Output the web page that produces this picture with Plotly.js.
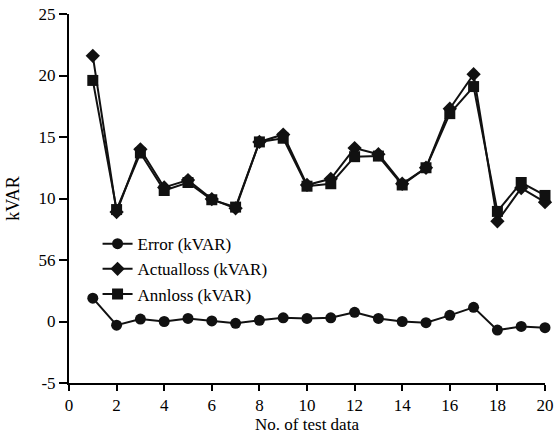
<!DOCTYPE html>
<html><head><meta charset="utf-8">
<script src="https://cdn.plot.ly/plotly-3.0.1.min.js"></script>
<style>html,body{margin:0;padding:0;background:#fff}#c{width:560px;height:434px}</style>
</head><body><div id="c"></div>
<script>
const testNo = [1,2,3,4,5,6,7,8,9,10,11,12,13,14,15,16,17,18,19,20];
const errorKVAR = [1.9,-0.3,0.2,0.0,0.25,0.05,-0.15,0.1,0.3,0.25,0.3,0.75,0.25,0.0,-0.1,0.5,1.15,-0.7,-0.4,-0.5];
const actualLoss = [21.6,8.9,14.0,10.9,11.5,9.95,9.2,14.6,15.2,11.1,11.6,14.1,13.6,11.2,12.5,17.3,20.1,8.15,10.85,9.7];
const annLoss = [19.6,9.1,13.7,10.65,11.3,9.9,9.3,14.6,14.9,11.0,11.2,13.4,13.45,11.1,12.5,16.9,19.1,8.95,11.3,10.25];
const yTickVals = [-5,0,5,10,15,20,25];
const yTickText = ["-5","0","56","10","15","20","25"];
const xTickVals = [0,2,4,6,8,10,12,14,16,18,20];

const font = "Liberation Serif";
const col = "#111";
function tr(name, y, symbol, size){
  return {x:testNo, y:y, name:name, type:"scatter", mode:"lines+markers",
    line:{color:col, width:2}, marker:{symbol:symbol, size:size, color:col},
    cliponaxis:false};
}
const data = [
  tr("Error (kVAR)", errorKVAR, "circle", 11),
  tr("Actualloss (kVAR)", actualLoss, "diamond", 11),
  tr("Annloss (kVAR)", annLoss, "square", 11)
];
const layout = {
  width:560, height:434,
  margin:{l:69, r:15, t:14, b:51},
  paper_bgcolor:"#fff", plot_bgcolor:"#fff",
  font:{family:font, size:17, color:"#000"},
  showlegend:true,
  legend:{x:0.06, y:0.425, xanchor:"left", yanchor:"top", bgcolor:"rgba(0,0,0,0)",
    font:{family:font, size:17, color:"#000"}, tracegroupgap:0, itemwidth:30},
  xaxis:{range:[0,20], tickvals:xTickVals, ticktext:xTickVals.map(String),
    showgrid:false, zeroline:false, showline:true, linecolor:"#000", linewidth:2,
    ticks:"outside", ticklen:6, tickwidth:2, tickcolor:"#000",
    tickfont:{family:font, size:17, color:"#000"},
    title:{text:"No. of test data", font:{family:font, size:17, color:"#000"}, standoff:0}},
  yaxis:{range:[-5,25], tickvals:yTickVals, ticktext:yTickText,
    showgrid:false, zeroline:false, showline:true, linecolor:"#000", linewidth:2,
    ticks:"outside", ticklen:8, tickwidth:2, tickcolor:"#000",
    tickfont:{family:font, size:17, color:"#000"},
    title:{text:"kVAR", font:{family:font, size:18, color:"#000"}, standoff:14}}
};
Plotly.newPlot("c", data, layout, {displayModeBar:false, staticPlot:true});
</script></body></html>
